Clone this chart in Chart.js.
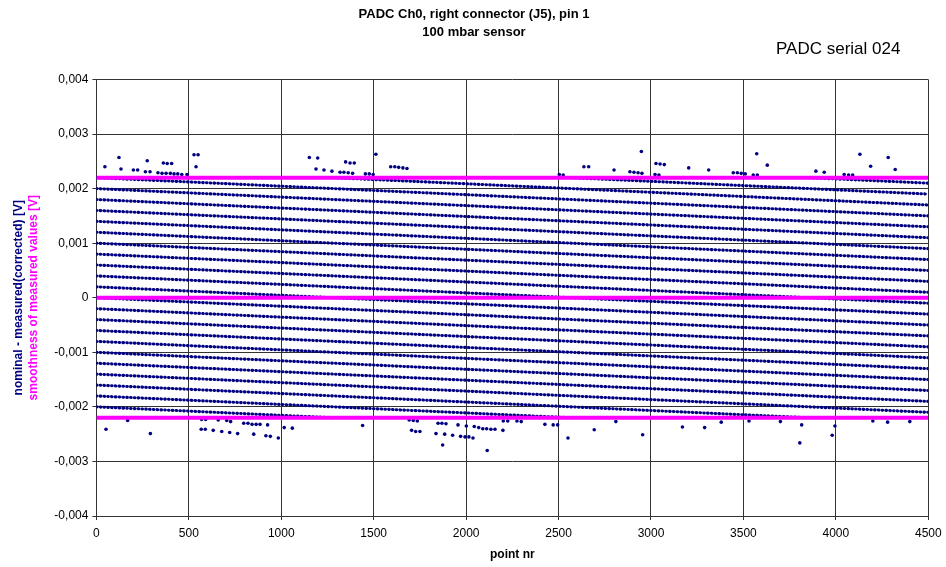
<!DOCTYPE html>
<html>
<head>
<meta charset="utf-8">
<script src="https://cdn.jsdelivr.net/npm/chart.js@4/dist/chart.umd.min.js"></script>
<style>
    html, body { margin: 0; padding: 0; background: #fff; }
    #wrap { width: 946px; height: 567px; }
</style>
</head>
<body>
<div id="wrap"><canvas id="myChart01" width="946" height="567"></canvas></div>
<script>
// quantisation stripes: start (x0,y0) -> end (x1,y1)
var stripeX0 = [0, 0, 0, 0, 0, 0, 0, 0, 0, 0, 0, 0, 0, 0, 0, 0, 0, 0, 0, 0, 3857, 0, 2571, 0, 1286];
var stripeY0 = [0.0022, 0.002, 0.0018, 0.0016, 0.0014, 0.0012, 0.001, 0.0008, 0.0006, 0.0004, 0.0002, 0,
    -0.0002, -0.0004, -0.0006, -0.0008, -0.001, -0.0012, -0.0014, -0.0016, 0.0022, -0.0018, 0.0022, -0.002, 0.0022];
var stripeX1 = [4500, 4500, 4500, 4500, 4500, 4500, 4500, 4500, 4500, 4500, 4500, 4500, 4500, 4500, 4500,
    4500, 4500, 4500, 4500, 3857, 4500, 2571, 4500, 1286, 4500];
var stripeY1 = [0.0015, 0.0013, 0.0011, 0.0009, 0.0007, 0.0005, 0.0003, 0.0001, -0.0001, -0.0003, -0.0005, -0.0007,
    -0.0009, -0.0011, -0.0013, -0.0015, -0.0017, -0.0019, -0.0021, -0.0022, 0.0021, -0.0022, 0.0019, -0.0022, 0.0017];

// scattered points outside the band
var outlierX = [46, 122, 133, 200, 223, 275, 265, 290, 362, 383, 407, 333, 355, 377, 400, 420, 440, 462, 490,
    528, 550, 539, 1152, 1197, 1188, 1231, 1274, 1348, 1372, 1395, 1318, 1339, 1362, 1386, 1455, 1476, 1497,
    1512, 1592, 1614, 1635, 1658, 1680, 2504, 2525, 2637, 2663, 2800, 2886, 2908, 2930, 2951, 2948, 3022,
    3043, 3027, 3049, 3072, 3204, 3312, 3445, 3467, 3488, 3510, 3553, 3575, 3572, 3629, 3892, 3937, 4045,
    4069, 4091, 4130, 4188, 4283, 4321,
    52, 169, 292, 567, 589, 569, 591, 632, 659, 678, 705, 726, 721, 764, 797, 820, 842, 864, 885, 851, 917,
    941, 926, 984, 1016, 1060, 1440, 1692, 1714, 1736, 1705, 1727, 1750, 1848, 1869, 1891, 1837, 1884, 1873,
    1927, 1956, 1970, 1994, 2015, 2037, 2001, 2044, 2068, 2090, 2111, 2134, 2156, 2199, 2114, 2201, 2225,
    2275, 2298, 2426, 2471, 2495, 2551, 2693, 2810, 2955, 3170, 3290, 3380, 3530, 3700, 3805, 3815, 3980,
    3995, 4200, 4280, 4400];
var outlierY = [0.0024, 0.00257, 0.00236, 0.00234, 0.00234, 0.00251, 0.00231, 0.00231, 0.00247, 0.00246,
    0.00246, 0.00229, 0.00228, 0.00228, 0.00228, 0.00227, 0.00227, 0.00226, 0.00226, 0.00262, 0.00262, 0.0024,
    0.00257, 0.00256, 0.00236, 0.00234, 0.00232, 0.00249, 0.00247, 0.00247, 0.0023, 0.0023, 0.00229, 0.00228,
    0.00227, 0.00227, 0.00226, 0.00263, 0.0024, 0.0024, 0.00239, 0.00238, 0.00237, 0.00226, 0.00225, 0.0024,
    0.0024, 0.00234, 0.00231, 0.0023, 0.00229, 0.00228, 0.00268, 0.00226, 0.00225, 0.00246, 0.00245, 0.00244,
    0.00238, 0.00234, 0.00229, 0.00229, 0.00228, 0.00227, 0.00225, 0.00225, 0.00264, 0.00243, 0.00232, 0.0023,
    0.00226, 0.00225, 0.00225, 0.00263, 0.00241, 0.00257, 0.00235,
    -0.00241, -0.00225, -0.00249, -0.00241, -0.00241, -0.00223, -0.00223, -0.00243, -0.00224, -0.00245,
    -0.00225, -0.00227, -0.00247, -0.00249, -0.0023, -0.0023, -0.00232, -0.00232, -0.00232, -0.0025, -0.00253,
    -0.00254, -0.00233, -0.00257, -0.00238, -0.00239, -0.00234, -0.00224, -0.00225, -0.00226, -0.00243,
    -0.00245, -0.00245, -0.0023, -0.0023, -0.00231, -0.00249, -0.0025, -0.0027, -0.00252, -0.00233, -0.00254,
    -0.00255, -0.00255, -0.00257, -0.00235, -0.00236, -0.00238, -0.0024, -0.0024, -0.00241, -0.00241,
    -0.00243, -0.0028, -0.00226, -0.00226, -0.00226, -0.00227, -0.00232, -0.00233, -0.00233, -0.00257,
    -0.00242, -0.00227, -0.00251, -0.00237, -0.00238, -0.00228, -0.00226, -0.00227, -0.00266, -0.00233,
    -0.00252, -0.00235, -0.00226, -0.00228, -0.00227];

// smoothness limits (magenta)
var limitLevels = [0.0022, 0, -0.0022];

var xMin = 0, xMax = 4500, xStep = 500;
var yMin = -0.004, yMax = 0.004, yStep = 0.001;

document.addEventListener("DOMContentLoaded", function() {
    var navy = '#000080';
    var pink = '#FF00FF';
    var font = "'Liberation Sans', Arial, sans-serif";

    var datasets = [];

    limitLevels.forEach(function(lv) {
        datasets.push({
            data: [{x: xMin, y: lv}, {x: xMax, y: lv}],
            showLine: true,
            borderColor: pink,
            borderWidth: 4,
            pointRadius: 0,
            order: 0
        });
    });

    // each stripe drawn as a dotted line between its two end points
    for (var i = 0; i < stripeX0.length; i++) {
        datasets.push({
            data: [{x: stripeX0[i], y: stripeY0[i]}, {x: stripeX1[i], y: stripeY1[i]}],
            showLine: true,
            borderColor: navy,
            borderWidth: 3.1,
            borderDash: [0.6, 3.2],
            borderCapStyle: 'round',
            pointRadius: 0,
            order: 1
        });
    }

    datasets.push({
        data: outlierX.map(function(x, k) { return {x: x, y: outlierY[k]}; }),
        backgroundColor: navy,
        borderColor: navy,
        borderWidth: 0,
        pointRadius: 1.8,
        order: 1
    });

    var texts = {
        id: 'texts',
        afterDraw: function(chart) {
            var ctx = chart.ctx;
            var mid = (chart.chartArea.top + chart.chartArea.bottom) / 2;
            ctx.save();
            ctx.fillStyle = '#000';
            ctx.textAlign = 'center';
            ctx.textBaseline = 'middle';
            ctx.font = 'bold 13px ' + font;
            ctx.fillText('PADC Ch0, right connector (J5), pin 1', 474, 14);
            ctx.fillText('100 mbar sensor', 474, 32);
            ctx.font = '17px ' + font;
            ctx.textAlign = 'left';
            ctx.fillText('PADC serial 024', 776, 49);

            ctx.translate(0, mid);
            ctx.rotate(-Math.PI / 2);
            ctx.textAlign = 'center';
            ctx.font = 'bold 12px ' + font;
            ctx.fillStyle = navy;
            ctx.fillText('nominal - measured(corrected) [V]', 0, 19);
            ctx.fillStyle = pink;
            ctx.fillText('smoothness of measured values [V]', 0, 34);
            ctx.restore();
        }
    };

    var ctx01 = document.getElementById('myChart01').getContext('2d');
    var myChart01 = new Chart(ctx01, {
        type: 'scatter',
        data: { datasets: datasets },
        plugins: [texts],
        options: {
            responsive: false,
            animation: false,
            devicePixelRatio: 1,
            layout: { padding: { top: 79.5, left: 0, right: 17.7, bottom: 0 } },
            plugins: {
                legend: { display: false },
                tooltip: { enabled: false }
            },
            scales: {
                x: {
                    type: 'linear',
                    min: xMin,
                    max: xMax,
                    afterFit: function(s) {
                        s.height = 51;
                        s.paddingLeft = 0;
                        s.paddingRight = 0;
                    },
                    ticks: {
                        stepSize: xStep,
                        color: '#000',
                        padding: 6,
                        maxRotation: 0,
                        font: { family: font, size: 12 },
                        callback: function(v) { return String(v); }
                    },
                    grid: { color: '#333', lineWidth: 1, tickLength: 4 },
                    border: { color: '#333' },
                    title: {
                        display: true,
                        text: 'point nr',
                        color: '#000',
                        padding: { top: 0, bottom: 5 },
                        font: { family: font, size: 12, weight: 'bold' }
                    }
                },
                y: {
                    type: 'linear',
                    min: yMin,
                    max: yMax,
                    afterFit: function(s) {
                        s.width = 96.4;
                        s.paddingTop = 0;
                        s.paddingBottom = 0;
                    },
                    ticks: {
                        stepSize: yStep,
                        color: '#000',
                        padding: 4,
                        font: { family: font, size: 12 },
                        callback: function(v) {
                            if (Math.abs(v) < 1e-9) return '0';
                            return v.toFixed(3).replace('.', ',');
                        }
                    },
                    grid: { color: '#333', lineWidth: 1, tickLength: 4 },
                    border: { color: '#333' }
                }
            }
        }
    });
});
</script>
</body>
</html>
